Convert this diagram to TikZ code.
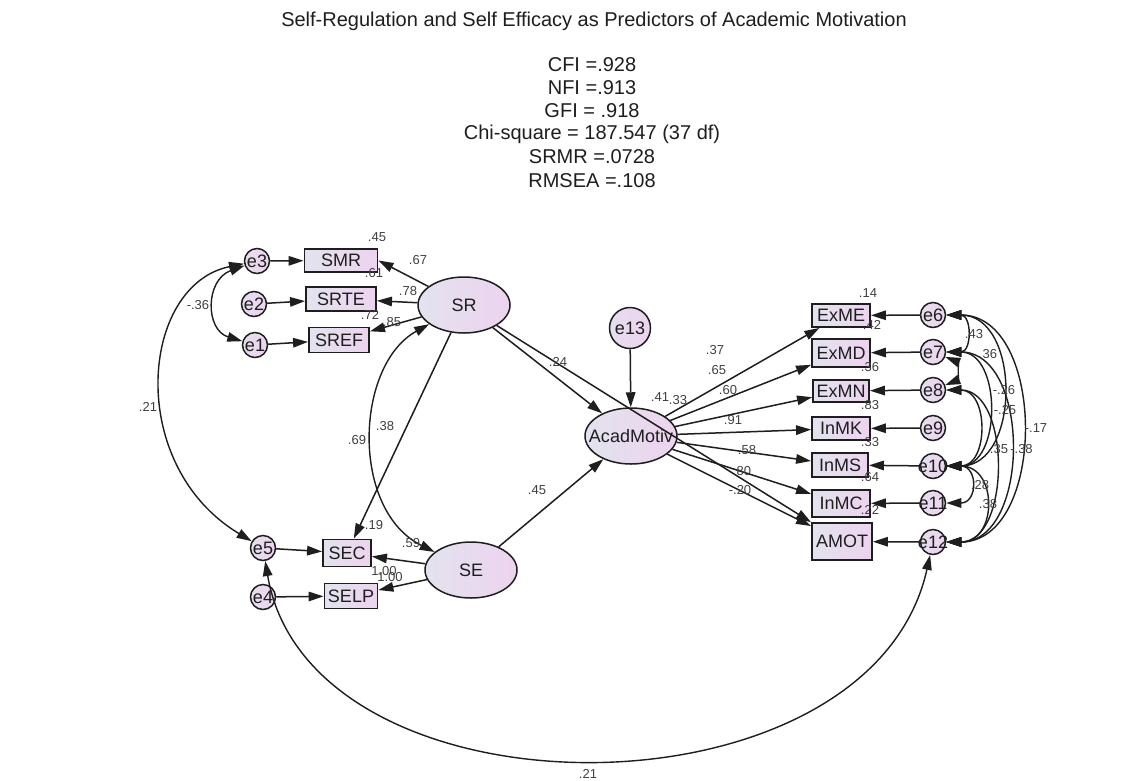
\documentclass[tikz,border=0pt]{standalone}
\usepackage{fontspec}
\setmainfont{Liberation Sans}
\usetikzlibrary{shapes.geometric,arrows.meta}

\definecolor{fillL}{HTML}{E3E3EE}
\definecolor{fillR}{HTML}{EDD3EF}
\definecolor{ink}{HTML}{1E1E1E}

\tikzset{
  tip/.tip={Triangle[length=15pt,width=9.5pt]},
  nodefont/.style={font=\fontsize{18}{20}\selectfont, text=ink},
  obs/.style={draw=ink, line width=1.9pt, left color=fillL, right color=fillR,
    inner sep=0pt, nodefont},
  lat/.style={ellipse, draw=ink, line width=1.5pt, left color=fillL, right color=fillR,
    minimum width=92pt, minimum height=56pt, inner sep=0pt},
  err/.style={circle, draw=ink, line width=1.5pt, left color=fillL!70!fillR, right color=fillR,
    minimum size=25pt, inner sep=0pt},
  inner/.style={nodefont, inner sep=0pt},
  pth/.style={draw=ink, line width=1.5pt, -tip},
  cov/.style={draw=ink, line width=1.4pt, tip-tip},
  lbl/.style={font=\fontsize{13}{15}\selectfont, text=ink!85, inner sep=0pt},
  head/.style={font=\fontsize{20}{23}\selectfont, text=ink, inner sep=0pt},
}

\begin{document}
\begin{tikzpicture}[x=1pt, y=-1pt]
\fill[white] (0,0) rectangle (1131,780);
\useasboundingbox (0,0) rectangle (1131,780);

% heading and fit indices
\node[head] (title) at (594,21) {Self-Regulation and Self Efficacy as Predictors of Academic Motivation};
\node[head] (cfi)   at (592,65)  {CFI =.928};
\node[head] (nfi)   at (592,88)  {NFI =.913};
\node[head] (gfi)   at (592,111) {GFI = .918};
\node[head] (chi)   at (592,134) {Chi-square = 187.547 (37 df)};
\node[head] (srmr)  at (592,157) {SRMR =.0728};
\node[head] (rmsea) at (592,181) {RMSEA =.108};

% latent variables
\node[lat, label={[inner]center:SR}] (sr) at (464,305) {};
\node[lat, label={[inner]center:SE}] (se) at (471,570) {};
\node[lat, label={[inner]center:AcadMotiv}] (am) at (631,436) {};

% observed indicators, left block
\node[obs, minimum width=73pt, minimum height=23pt] (smr)  at (341,260.5) {SMR};
\node[obs, minimum width=70pt, minimum height=24pt] (srte) at (341,299) {SRTE};
\node[obs, minimum width=60pt, minimum height=25pt] (sref) at (339,340) {SREF};
\node[obs, minimum width=48pt, minimum height=27pt] (sec)  at (347,553) {SEC};
\node[obs, minimum width=53pt, minimum height=25pt] (selp) at (351,596) {SELP};

% observed indicators, right block
\node[obs, minimum width=58pt, minimum height=23pt] (exme) at (841,315.5) {ExME};
\node[obs, minimum width=58pt, minimum height=28pt] (exmd) at (841,353) {ExMD};
\node[obs, minimum width=56pt, minimum height=22pt] (exmn) at (841,391) {ExMN};
\node[obs, minimum width=58pt, minimum height=23pt] (inmk) at (841,428.5) {InMK};
\node[obs, minimum width=56pt, minimum height=24pt] (inms) at (840,465) {InMS};
\node[obs, minimum width=58pt, minimum height=27pt] (inmc) at (841,503.5) {InMC};
\node[obs, minimum width=60pt, minimum height=37pt] (amot) at (842,541.5) {AMOT};

% error terms
\node[err, label={[inner]center:e3}] (e3) at (257,261) {};
\node[err, label={[inner]center:e2}] (e2) at (254,304) {};
\node[err, label={[inner]center:e1}] (e1) at (255,345) {};
\node[err, label={[inner]center:e5}] (e5) at (263,548) {};
\node[err, label={[inner]center:e4}] (e4) at (263,597) {};
\node[err, minimum size=41pt, label={[inner]center:e13}] (e13) at (630,328) {};
\node[err, label={[inner]center:e6}]  (e6)  at (933,315) {};
\node[err, label={[inner]center:e7}]  (e7)  at (933,352) {};
\node[err, label={[inner]center:e8}]  (e8)  at (933,390) {};
\node[err, label={[inner]center:e9}]  (e9)  at (933,428) {};
\node[err, label={[inner]center:e10}] (e10) at (933,466) {};
\node[err, label={[inner]center:e11}] (e11) at (933,503) {};
\node[err, label={[inner]center:e12}] (e12) at (933,542) {};

% error paths
\draw[pth] (e3) -- (smr);
\draw[pth] (e2) -- (srte);
\draw[pth] (e1) -- (sref);
\draw[pth] (e5) -- (sec);
\draw[pth] (e4) -- (selp);
\draw[pth] (e13) -- (am);
\foreach \e/\v in {e6/exme, e7/exmd, e8/exmn, e9/inmk, e10/inms, e11/inmc, e12/amot}
  \draw[pth] (\e) -- (\v);

% loadings and structural paths
\draw[pth] (sr) -- (smr.east);
\draw[pth] (sr) -- (srte);
\draw[pth] (sr) -- (sref);
\draw[pth] (sr) -- (sec);
\draw[pth] (se) -- (sec);
\draw[pth] (se) -- (selp);
\draw[pth] (sr) -- (am);
\draw[pth] (se) -- (am);
\draw[pth] (sr) -- (amot);
\foreach \v in {exme, exmd, exmn, inmk, inms, inmc, amot}
  \draw[pth] (am) -- (\v);

% covariances, left side
\draw[cov] (sr) .. controls (355,365) and (350,510) .. (se);
\draw[cov] (e3) .. controls (205,280) and (205,330) .. (e1);
\draw[cov] (e3) .. controls (140,285) and (125,465) .. (e5);
\draw[cov] (e5) .. controls (310,826) and (870,826) .. (e12);

% covariances among the right-hand error terms
\draw[cov] (e6)  .. controls (972,315) and (972,352) .. (e7);
\draw[cov] (e7)  .. controls (958,362) and (958,380) .. (e8);
\draw[cov] (e6)  .. controls (1021,315) and (1021,466) .. (e10);
\draw[cov] (e6)  .. controls (1047,315) and (1047,542) .. (e12);
\draw[cov] (e7)  .. controls (1002,352) and (1002,466) .. (e10);
\draw[cov] (e7)  .. controls (1031,352) and (1031,542) .. (e12);
\draw[cov] (e8)  .. controls (989,390) and (989,466) .. (e10);
\draw[cov] (e8)  .. controls (1011,390) and (1011,542) .. (e12);
\draw[cov] (e10) .. controls (978,466) and (978,503) .. (e11);
\draw[cov] (e10) .. controls (998,466) and (998,542) .. (e12);

% estimates, left block
\node[lbl] (r2smr)  at (377,237) {.45};
\node[lbl] (ldsmr)  at (418,260) {.67};
\node[lbl] (r2srte) at (374,273) {.61};
\node[lbl] (ldsrte) at (408,291) {.78};
\node[lbl] (r2sref) at (370,315) {.72};
\node[lbl] (ldsref) at (392,322) {.85};
\node[lbl] (ce3e1)  at (198,305) {-.36};
\node[lbl] (ce3e5)  at (148,407) {.21};
\node[lbl] (csrse)  at (357,440) {.69};
\node[lbl] (ldsrsec) at (385,426) {.38};
\node[lbl] (r2sec)  at (374,525) {.19};
\node[lbl] (ldsesec) at (411,543) {.59};
\node[lbl] (r2selp) at (384,571) {1.00};
\node[lbl] (ldselp) at (390,577) {1.00};
\node[lbl] (bsr)    at (558,362) {.24};
\node[lbl] (bse)    at (537,490) {.45};
\node[lbl] (ce5e12) at (588,774) {.21};

% estimates, outcome block
\node[lbl] (ldexme) at (715,350) {.37};
\node[lbl] (ldexmd) at (717,370) {.65};
\node[lbl] (ldexmn) at (728,390) {.60};
\node[lbl] (bsramot) at (660,397) {.41};
\node[lbl] (r2am)   at (678,400) {.33};
\node[lbl] (ldinmk) at (733,420) {.91};
\node[lbl] (ldinms) at (747,450) {.58};
\node[lbl] (ldinmc) at (742,471) {.80};
\node[lbl] (ldamot) at (740,490) {-.20};
\node[lbl] (r2exme) at (868,293) {.14};
\node[lbl] (r2exmd) at (872,325) {.42};
\node[lbl] (r2exmn) at (870,367) {.36};
\node[lbl] (r2inmk) at (870,405) {.83};
\node[lbl] (r2inms) at (870,442) {.33};
\node[lbl] (r2inmc) at (870,477) {.64};
\node[lbl] (r2amot) at (870,510) {.22};

% estimates, error covariances
\node[lbl] (c67)  at (974,334) {.43};
\node[lbl] (c610) at (988,354) {.36};
\node[lbl] (c710) at (1004,390) {-.26};
\node[lbl] (c810) at (1005,410) {-.25};
\node[lbl] (c612) at (1036,428) {-.17};
\node[lbl] (c812) at (999,449) {.35};
\node[lbl] (c712) at (1021.5,449) {-.38};
\node[lbl] (c1011) at (980,485) {.28};
\node[lbl] (c1012) at (988,504) {.38};
\end{tikzpicture}
\end{document}
